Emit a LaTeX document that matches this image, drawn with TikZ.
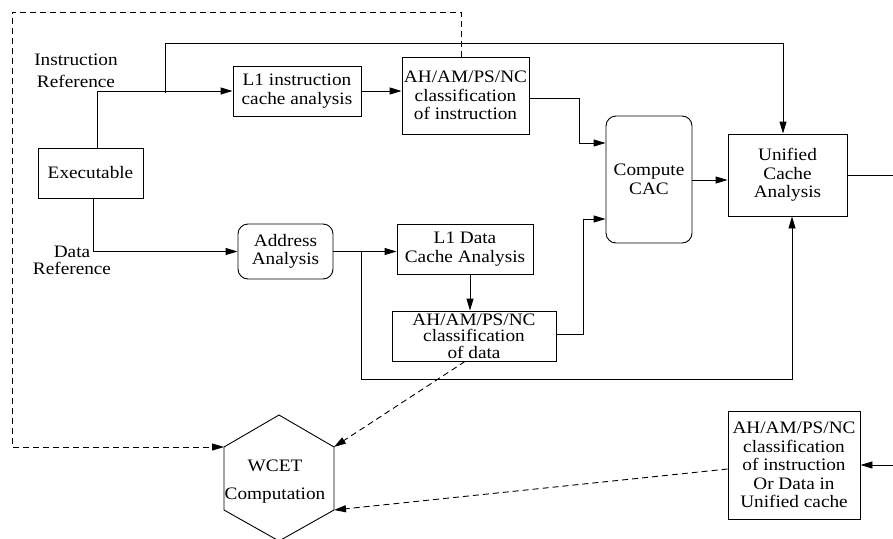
\documentclass[tikz,border=0pt]{standalone}
\usepackage{fontspec}
\setmainfont{Liberation Serif}[FakeStretch=1.1]
\usetikzlibrary{arrows.meta}
\begin{document}
\begin{tikzpicture}[x=1pt,y=-1pt,
  every node/.style={font=\fontsize{17.5}{18.6}\selectfont, align=center, inner sep=0pt},
  box/.style={draw, line width=0.9pt, rectangle},
  rbox/.style={draw, line width=0.9pt, rectangle, rounded corners=10pt},
  link/.style={line width=0.9pt},
  arr/.style={line width=0.9pt, -{Triangle[length=12pt,width=7pt]}},
  darr/.style={line width=0.9pt, dash pattern=on 6pt off 4pt, -{Triangle[length=12pt,width=7pt]}}]
\useasboundingbox (0,0) rectangle (893,538);

% processing blocks
\node[box, minimum width=105pt, minimum height=50pt] (exe) at (90.5,173) {Executable};
\node[box, minimum width=128pt, minimum height=50pt] (l1i) at (297,91) {L1 instruction\\cache analysis};
\node[box, minimum width=127pt, minimum height=77pt] (ahi) at (465.5,95.5) {AH/AM/PS/NC\\classification\\of instruction};
\node[rbox, minimum width=86pt, minimum height=127pt] (cac) at (649,179.5) {Compute\\CAC};
\node[box, minimum width=119pt, minimum height=82pt] (uni) at (787.5,175) {Unified\\Cache\\Analysis};
\node[rbox, minimum width=95pt, minimum height=55pt] (addr) at (285.5,251.5) {Address\\Analysis};
\node[box, minimum width=136pt, minimum height=50pt] (l1d) at (465,249) {L1 Data\\Cache Analysis};
\node[box, minimum width=164pt, minimum height=50pt, font=\fontsize{17.5}{16.5}\selectfont] (ahd) at (474,336) {AH/AM/PS/NC\\classification\\of data};
\node[box, minimum width=132pt, minimum height=108pt] (ahu) at (794,465) {AH/AM/PS/NC\\classification\\of instruction\\Or Data in\\Unified cache};

% WCET hexagon, pointed top and bottom
\coordinate (h1) at (279,415);
\coordinate (h2) at (224,447);
\coordinate (h3) at (224,510);
\coordinate (h4) at (279,541);
\coordinate (h5) at (334,510);
\coordinate (h6) at (334,447);
\draw[line width=0.9pt] (h1) -- (h2) -- (h3) -- (h4) -- (h5) -- (h6) -- cycle;
\node[font=\fontsize{17.5}{28}\selectfont] (wcet) at (275,482) {WCET\\Computation};

% side labels
\node[font=\fontsize{17.5}{22}\selectfont] (iref) at (76,71) {Instruction\\Reference};
\node[font=\fontsize{17.5}{17}\selectfont] (dref) at (72,260) {Data\\Reference};

% routing points
\coordinate (br1) at (165,93);
\coordinate (toplane) at (0,43);
\coordinate (j1) at (579,143);
\coordinate (br2) at (361,252);
\coordinate (j2) at (792,379);
\coordinate (j3) at (583,219);
\coordinate (d1) at (12,12);
\coordinate (outR1) at (893,175);
\coordinate (inR2) at (893,465);

% instruction path
\draw[arr] ([xshift=6.5pt]exe.north) |- (l1i.west);
\draw[arr] (br1) -- (br1 |- toplane) -| ([xshift=-4.5pt]uni.north);
\draw[arr] (l1i.east) -- (ahi.west |- l1i.east);
\draw[arr] ([yshift=-2.5pt]ahi.east) -| (j1) -- (j1 -| cac.west);
\draw[arr] ([yshift=-0.5pt]cac.east) -- ([yshift=-0.5pt]cac.east -| uni.west);
\draw[link] (uni.east) -- (outR1);

% data path
\draw[arr] ([xshift=2.5pt]exe.south) |- (addr.west);
\draw[arr] (addr.east) -- (addr.east -| l1d.west);
\draw[arr] (br2) |- (j2) -- (j2 |- uni.south);
\draw[arr] ([xshift=5pt]l1d.south) -- ([xshift=5pt]l1d.south |- ahd.north);
\draw[arr] ([yshift=2pt]ahd.east) -| (j3) -- (j3 -| cac.west);

% feedback to WCET computation
\draw[darr] ([xshift=-4.5pt]ahi.north) |- (d1) |- (h2);
\draw[darr] ([xshift=-9pt]ahd.south) -- (h6);
\draw[darr] ([yshift=-4pt]ahu.west) -- (h5);
\draw[arr] (inR2) -- (ahu.east);
\end{tikzpicture}
\end{document}
